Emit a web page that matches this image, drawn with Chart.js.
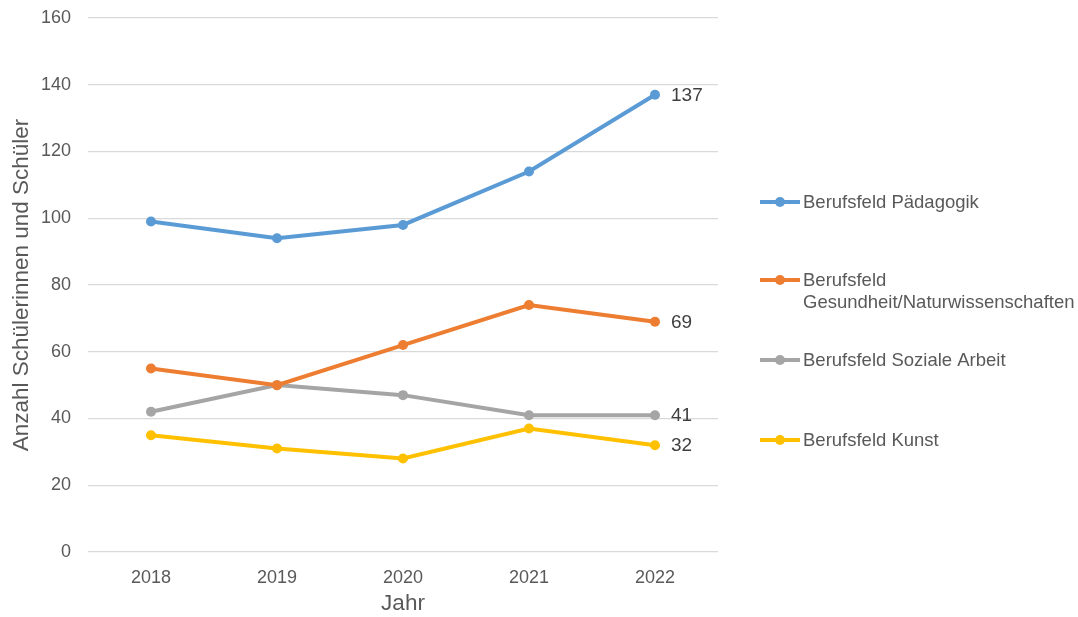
<!DOCTYPE html>
<html>
<head>
<meta charset="utf-8">
<script src="https://cdn.jsdelivr.net/npm/chart.js@4/dist/chart.umd.min.js"></script>
<style>
    html, body { margin: 0; padding: 0; background: #fff; }
    #wrap { width: 1078px; height: 617px; position: relative; }
</style>
</head>
<body>
<div id="wrap"><canvas id="lineChart"></canvas></div>
<script>
// Data
const years = ['2018', '2019', '2020', '2021', '2022'];
const paedagogik = [99, 94, 98, 114, 137];
const gesundheit = [55, 50, 62, 74, 69];
const sozialeArbeit = [42, 50, 47, 41, 41];
const kunst = [35, 31, 28, 37, 32];
const yTicks = [0, 20, 40, 60, 80, 100, 120, 140, 160];

const seriesNames = [
    ['Berufsfeld Pädagogik'],
    ['Berufsfeld', 'Gesundheit/Naturwissenschaften'],
    ['Berufsfeld Soziale Arbeit'],
    ['Berufsfeld Kunst']
];
const legendRows = [202, 280, 360, 440];

const FONT = 'Arial, "Liberation Sans", sans-serif';
const TEXT = '#595959';

function makeSet(name, data, color) {
    return {
        label: name.join(' '),
        data: data,
        borderColor: color,
        backgroundColor: color,
        borderWidth: 4,
        pointRadius: 5,
        pointHoverRadius: 5,
        pointBorderWidth: 0,
        tension: 0
    };
}

// Value label at the last point of each series
const endLabels = {
    id: 'endLabels',
    afterDatasetsDraw(chart) {
        const ctx = chart.ctx;
        ctx.save();
        ctx.font = '19px ' + FONT;
        ctx.fillStyle = '#404040';
        ctx.textAlign = 'left';
        ctx.textBaseline = 'middle';
        chart.data.datasets.forEach((ds, i) => {
            const meta = chart.getDatasetMeta(i);
            const last = meta.data[meta.data.length - 1];
            ctx.fillText(String(ds.data[ds.data.length - 1]), last.x + 16, last.y + 1);
        });
        ctx.restore();
    }
};

// Legend on the right, as in the original
const sideLegend = {
    id: 'sideLegend',
    afterDraw(chart) {
        const ctx = chart.ctx;
        ctx.save();
        ctx.font = '18.5px ' + FONT;
        ctx.textAlign = 'left';
        ctx.textBaseline = 'middle';
        chart.data.datasets.forEach((ds, i) => {
            const y = legendRows[i];
            ctx.strokeStyle = ds.borderColor;
            ctx.lineWidth = 4;
            ctx.beginPath();
            ctx.moveTo(760, y);
            ctx.lineTo(800, y);
            ctx.stroke();
            ctx.fillStyle = ds.borderColor;
            ctx.beginPath();
            ctx.arc(780, y, 5, 0, Math.PI * 2);
            ctx.fill();
            ctx.fillStyle = TEXT;
            seriesNames[i].forEach((line, j) => {
                ctx.fillText(line, 803, y + 1 + j * 22);
            });
        });
        ctx.restore();
    }
};

new Chart(document.getElementById('lineChart'), {
    type: 'line',
    data: {
        labels: years,
        datasets: [
            makeSet(seriesNames[0], paedagogik, '#5B9BD5'),
            makeSet(seriesNames[1], gesundheit, '#ED7D31'),
            makeSet(seriesNames[2], sozialeArbeit, '#A5A5A5'),
            makeSet(seriesNames[3], kunst, '#FFC000')
        ]
    },
    options: {
        responsive: true,
        maintainAspectRatio: false,
        animation: false,
        layout: { padding: { left: 0, right: 360, top: 18, bottom: 0 } },
        plugins: {
            legend: { display: false },
            tooltip: { enabled: false }
        },
        scales: {
            x: {
                offset: true,
                grid: { display: false },
                border: { display: false },
                ticks: { color: TEXT, font: { size: 18, family: FONT }, padding: 7 },
                title: { display: true, text: 'Jahr', color: TEXT, font: { size: 22.5, family: FONT }, padding: { top: 0, bottom: 0 } },
                afterFit(scale) { scale.height = 65; }
            },
            y: {
                min: 0,
                max: 160,
                afterBuildTicks(scale) { scale.ticks = yTicks.map(v => ({ value: v })); },
                grid: { color: '#d9d9d9', lineWidth: 1.3, drawTicks: false },
                border: { display: false },
                ticks: { color: TEXT, font: { size: 18, family: FONT }, padding: 17 },
                title: { display: true, text: 'Anzahl Schülerinnen und Schüler', color: TEXT, font: { size: 22.5, family: FONT }, padding: { top: 8, bottom: 6 } },
                afterFit(scale) {
                    scale.width = 88;
                    scale.paddingTop = 0;
                    scale.paddingBottom = 0;
                }
            }
        }
    },
    plugins: [endLabels, sideLegend]
});
</script>
</body>
</html>
